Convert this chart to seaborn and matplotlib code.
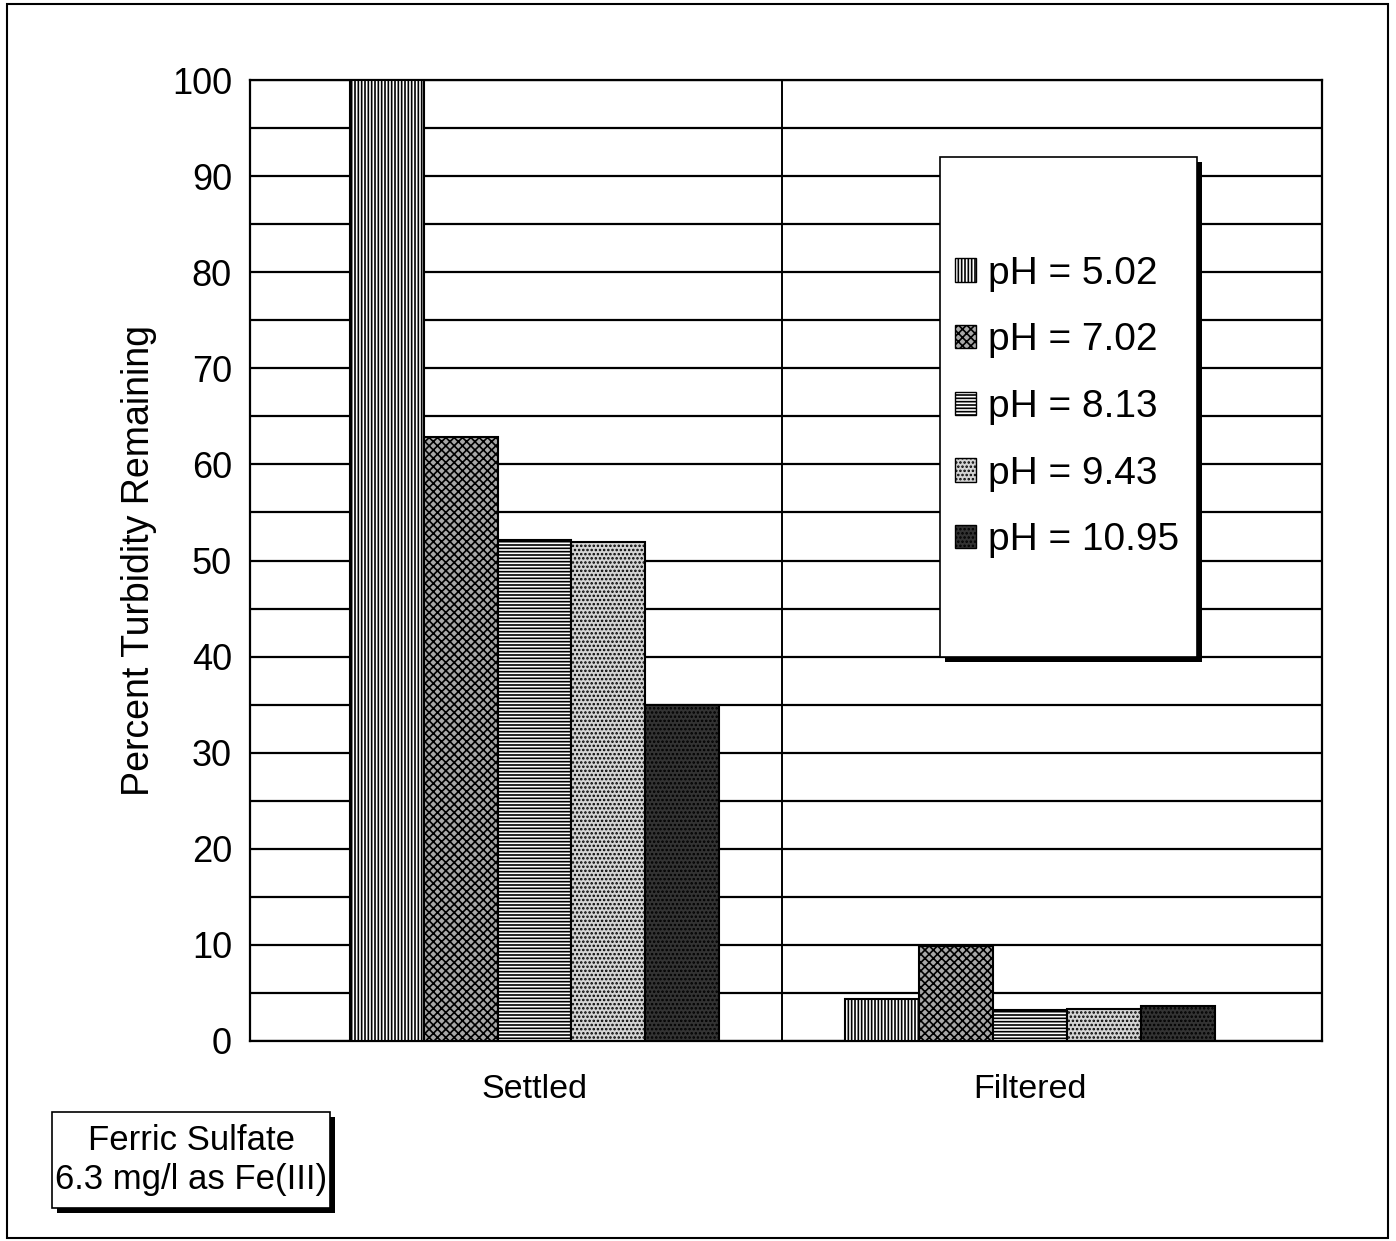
import matplotlib
matplotlib.use("Agg")
import matplotlib.pyplot as plt
import matplotlib.patches as mpatches
import pandas as pd
import seaborn as sns

categories = ["Settled", "Filtered"]
ph_labels = ["pH = 5.02", "pH = 7.02", "pH = 8.13", "pH = 9.43", "pH = 10.95"]
settled = [100.0, 62.8, 52.1, 51.9, 35.0]
filtered = [4.4, 9.9, 3.2, 3.3, 3.6]

face_colors = ["white", "#a8a8a8", "white", "#d4d4d4", "#333333"]
hatches = ["|||||", "xxxx", "-----", "....", "...."]

rows = []
for cat, vals in zip(categories, [settled, filtered]):
    for lab, v in zip(ph_labels, vals):
        rows.append({"Stage": cat, "pH": lab, "Turbidity": v})
df = pd.DataFrame(rows)

sns.set_style("white")
plt.rcParams["font.family"] = ["Liberation Sans", "DejaVu Sans"]
plt.rcParams["hatch.linewidth"] = 1.2
plt.rcParams["text.color"] = "black"

fig = plt.figure(figsize=(13.96, 12.41), dpi=100)
W, H = 1396, 1241
ax = fig.add_axes([250 / W, 1 - 1041 / H, (1322 - 250) / W, (1041 - 80) / H])

sns.barplot(data=df, x="Stage", y="Turbidity", hue="pH", order=categories,
            hue_order=ph_labels, width=0.745, palette=face_colors,
            edgecolor="black", linewidth=1.5, saturation=1, ax=ax,
            legend=False, zorder=3)

# apply fill patterns per pH series
for i, container in enumerate(ax.containers):
    for bar in container:
        bar.set_hatch(hatches[i])
        bar.set_facecolor(face_colors[i])
        bar.set_edgecolor("black")

ax.set_xlim(-0.574, 1.589)
ax.set_ylim(0, 100)
ax.set_yticks(range(0, 101, 10))
ax.set_yticks(range(5, 100, 10), minor=True)
ax.yaxis.grid(True, which="both", color="black", linewidth=1.6, zorder=0)
ax.set_axisbelow(True)
ax.axvline(0.5, color="black", linewidth=1.4, zorder=1)
for s in ax.spines.values():
    s.set_color("black")
    s.set_linewidth(1.6)
ax.tick_params(axis="both", which="both", length=0, colors="black")
ax.tick_params(axis="y", labelsize=26, pad=13)
ax.tick_params(axis="x", labelsize=24.5, pad=23.5)
ax.set_xlabel("")
ax.set_ylabel("Percent Turbidity Remaining", fontsize=27, labelpad=11,
              color="black")

# legend box with drop shadow
lx0, lx1, ly0, ly1 = 940, 1197, 157, 657
shadow = mpatches.Rectangle((lx0 + 5, H - ly1 - 5), lx1 - lx0, ly1 - ly0,
                            transform=None, facecolor="black", edgecolor="none",
                            zorder=10)
box = mpatches.Rectangle((lx0, H - ly1), lx1 - lx0, ly1 - ly0, transform=None,
                         facecolor="white", edgecolor="black", linewidth=1.2,
                         zorder=11)
fig.patches.extend([shadow, box])

handles = [mpatches.Patch(facecolor=face_colors[i], edgecolor="black",
                          hatch=hatches[i], label=ph_labels[i])
           for i in range(len(ph_labels))]
leg = fig.legend(handles=handles, loc="center left",
                 bbox_to_anchor=(939 / W, 1 - 407 / H), borderaxespad=0,
                 frameon=False, fontsize=28, handlelength=0.55,
                 handleheight=0.55, handletextpad=0.3, labelspacing=0.79)
leg.set_zorder(12)

# annotation box with drop shadow
bx0, bx1, by0, by1 = 52, 330, 1112, 1208
fig.patches.append(mpatches.Rectangle((bx0 + 5, H - by1 - 5), bx1 - bx0,
                                      by1 - by0, transform=None,
                                      facecolor="black", edgecolor="none"))
fig.patches.append(mpatches.Rectangle((bx0, H - by1), bx1 - bx0, by1 - by0,
                                      transform=None, facecolor="white",
                                      edgecolor="black", linewidth=1.2))
fig.text((bx0 + bx1) / 2 / W, 1 - (by0 + by1) / 2 / H,
         "Ferric Sulfate\n6.3 mg/l as Fe(III)", ha="center", va="center",
         fontsize=25, linespacing=1.25)

# page frame
fig.patches.append(mpatches.Rectangle((7, 3), 1381, 1234, transform=None,
                                      facecolor="none", edgecolor="black",
                                      linewidth=1.5))

fig.savefig("out.png", dpi=100)
